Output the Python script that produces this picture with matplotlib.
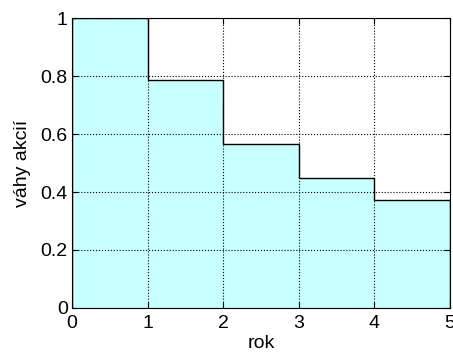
import matplotlib
matplotlib.use("Agg")
import matplotlib.pyplot as plt
import numpy as np

# hodnoty vah akcii v jednotlivych letech
roky = [0, 1, 2, 3, 4, 5]
vahy = [1.0, 0.788, 0.565, 0.447, 0.374]

plt.rcParams["font.family"] = ["Liberation Sans", "DejaVu Sans"]

fig = plt.figure(figsize=(4.53, 3.56), dpi=100)
ax = fig.add_axes([0.159, 0.135, 0.834, 0.814])

ax.stairs(vahy, roky, fill=True, color="#c8ffff", zorder=1)
ax.stairs(vahy, roky, color="black", linewidth=1.0, zorder=3)

ax.set_xlim(0, 5)
ax.set_ylim(0, 1)
ax.set_xticks(np.arange(0, 6, 1))
ax.set_yticks([0, 0.2, 0.4, 0.6, 0.8, 1])
ax.set_yticklabels(["0", "0.2", "0.4", "0.6", "0.8", "1"])
ax.set_axisbelow(False)
ax.grid(True, linestyle=":", color="black", linewidth=0.8)
ax.tick_params(direction="in", labelsize=14, length=4, top=True, right=True)
ax.tick_params(axis="x", pad=5)
ax.tick_params(axis="y", pad=3)
for s in ax.spines.values():
    s.set_linewidth(0.8)
    s.set_zorder(4)

ax.set_xlabel("rok", fontsize=14, labelpad=2)
ax.set_ylabel("váhy akcií", fontsize=14, labelpad=7)

fig.savefig("out.png", dpi=100)
